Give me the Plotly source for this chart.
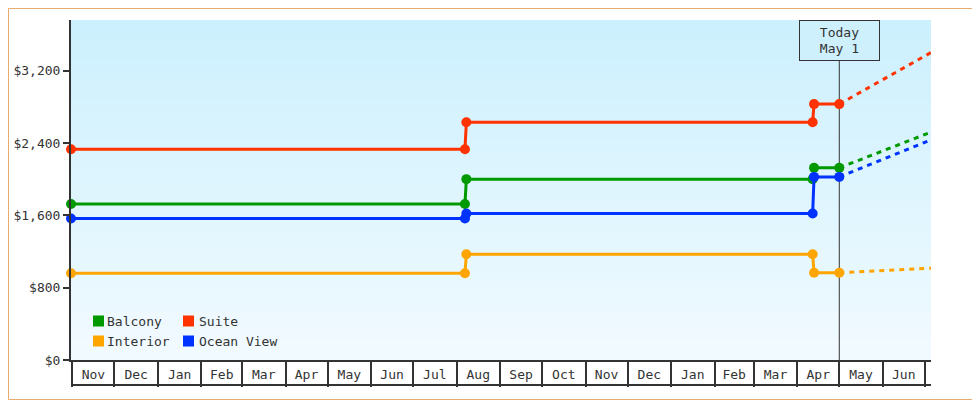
import plotly.graph_objects as go

# cabin price history (step changes) and projection past today
dates = ["2023-10-31", "2024-08-07", "2024-08-08", "2025-04-12", "2025-04-13", "2025-05-01"]
proj_dates = ["2025-05-01", "2025-07-05 10:00"]

balcony = [1725, 1725, 2000, 2000, 2125, 2125]
suite = [2330, 2330, 2630, 2630, 2830, 2830]
ocean_view = [1565, 1565, 1620, 1620, 2025, 2025]
interior = [960, 960, 1170, 1170, 965, 965]

balcony_proj = [2125, 2520]
suite_proj = [2830, 3400]
ocean_view_proj = [2025, 2435]
interior_proj = [965, 1015]

y_ticks = [0, 800, 1600, 2400, 3200]
y_tick_labels = ["$0", "$800", "$1,600", "$2,400", "$3,200"]
today = "2025-05-01"
today_label = "Today<br>May 1"

FONT = "DejaVu Sans Mono"
INK = "#333333"

# name, colour, history, projection, legend slot (column, row)
series = [
    ("Balcony", "#009900", balcony, balcony_proj, (0, 0)),
    ("Interior", "#ffa500", interior, interior_proj, (0, 1)),
    ("Suite", "#ff3300", suite, suite_proj, (1, 0)),
    ("Ocean View", "#0033ff", ocean_view, ocean_view_proj, (1, 1)),
]

fig = go.Figure()

# draw back to front like the reference: suite, balcony, ocean view, interior
for name, color, hist, proj, slot in [series[2], series[0], series[3], series[1]]:
    fig.add_trace(go.Scatter(
        x=proj_dates, y=proj, mode="lines",
        line=dict(color=color, width=3, dash="5px,5px"),
        showlegend=False, hoverinfo="skip",
    ))
    fig.add_trace(go.Scatter(
        x=dates, y=hist, mode="lines+markers",
        line=dict(color=color, width=3),
        marker=dict(size=10, color=color),
        cliponaxis=False, showlegend=False, name=name,
    ))

# page body adds 8px offset, so the figure is 8px smaller than the window
W, H = 972, 392
ML, MR, MT, MB = 63, 49, 12, 40
PW, PH = W - ML - MR, H - MT - MB

# vertical gradient background
shapes = []
n_bands = 34
top = (204, 240, 253)
bottom = (241, 250, 255)
for i in range(n_bands):
    t = i / (n_bands - 1)
    c = tuple(round(top[k] + (bottom[k] - top[k]) * t) for k in range(3))
    shapes.append(dict(
        type="rect", xref="paper", yref="paper",
        x0=0, x1=1, y0=1 - (i + 1) / n_bands, y1=1 - i / n_bands,
        fillcolor="rgb(%d,%d,%d)" % c, line=dict(width=0), layer="below",
    ))

# today marker line
shapes.append(dict(
    type="line", xref="x", yref="paper", x0=today, x1=today, y0=0, y1=1,
    line=dict(color=INK, width=1), layer="below",
))
# bottom edge of the month cells
shapes.append(dict(
    type="line", xref="paper", yref="paper", x0=0, x1=1,
    y0=-25 / PH, y1=-25 / PH, line=dict(color=INK, width=2),
))
# outer orange frame
shapes.append(dict(
    type="rect", xref="paper", yref="paper",
    x0=(0.5 - ML) / PW, x1=(W - 0.5 - ML) / PW,
    y0=(MT + PH - (H - 0.5)) / PH, y1=(MT + PH - 0.5) / PH,
    line=dict(color="#e8ac6c", width=1),
))

annotations = [dict(
    x=today, y=1, xref="x", yref="paper", yanchor="top",
    text=today_label, showarrow=False,
    font=dict(family=FONT, size=13, color=INK),
    bordercolor=INK, borderwidth=1, borderpad=2,
    bgcolor="#cdf0fc", width=75, height=35,
)]

# hand-placed legend: square swatch + label, two columns
for name, color, hist, proj, (col, row) in series:
    sx = 22 + col * 90          # px from plot left
    sy = 39 - row * 20          # px from plot bottom (swatch centre)
    shapes.append(dict(
        type="rect", xref="paper", yref="paper",
        x0=sx / PW, x1=(sx + 11) / PW,
        y0=(sy - 5.5) / PH, y1=(sy + 5.5) / PH,
        fillcolor=color, line=dict(width=0),
    ))
    annotations.append(dict(
        x=(sx + 11.5 + col * 2) / PW, y=sy / PH, xref="paper", yref="paper",
        xanchor="left", yanchor="middle", text=name, showarrow=False,
        font=dict(family=FONT, size=13, color=INK),
    ))

fig.update_layout(
    width=W, height=H,
    margin=dict(l=ML, r=MR, t=MT, b=MB),
    paper_bgcolor="white",
    plot_bgcolor="#e0f6fd",
    font=dict(family=FONT, size=13, color=INK),
    shapes=shapes,
    annotations=annotations,
    showlegend=False,
)

fig.update_xaxes(
    type="date",
    range=["2023-10-31", "2025-07-05 10:00"],
    tick0="2023-11-01", dtick="M1", tickformat="%b",
    ticklabelmode="period",
    ticks="outside", ticklen=25, tickwidth=1.5, tickcolor=INK,
    ticklabelstandoff=-24,
    showline=True, linewidth=2, linecolor=INK,
    showgrid=False, zeroline=False, automargin=False,
)
fig.update_yaxes(
    range=[0, 3760],
    tickvals=y_ticks, ticktext=y_tick_labels,
    ticks="outside", ticklen=6, tickwidth=2, tickcolor=INK,
    showline=True, linewidth=2, linecolor=INK,
    showgrid=False, zeroline=False, automargin=False,
)

fig.write_html("out.html")
